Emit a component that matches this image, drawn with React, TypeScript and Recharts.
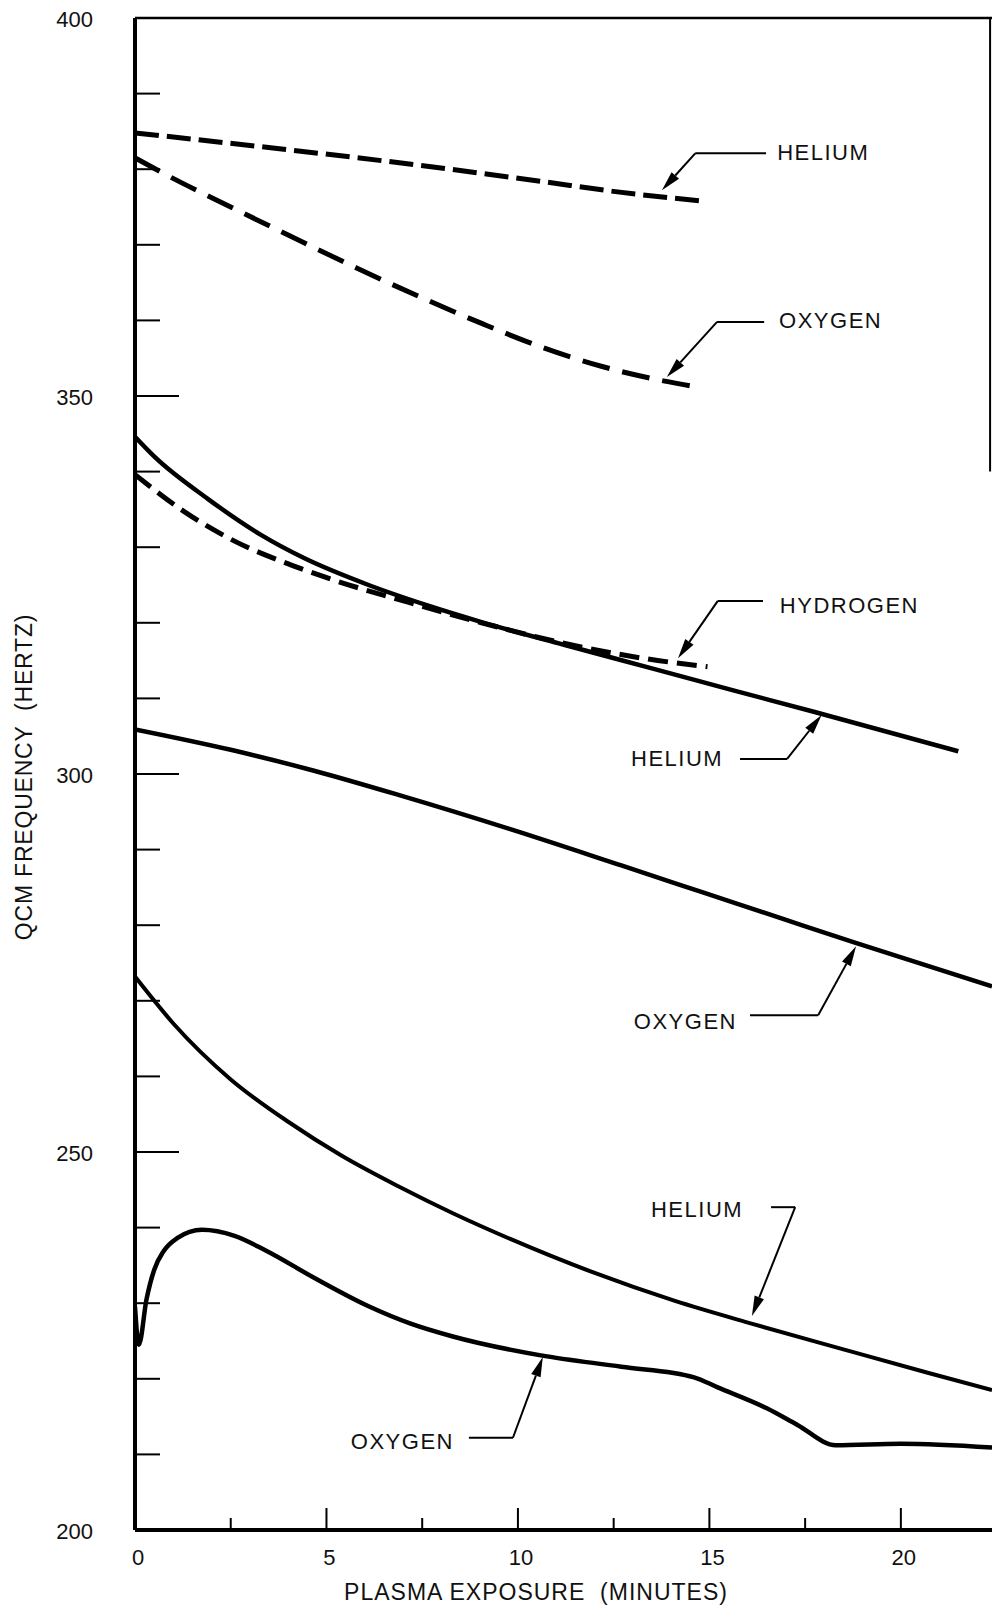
import React from "react";
import { LineChart, Line, XAxis, YAxis, ReferenceLine, ReferenceDot } from "recharts";

const FONT = '"Liberation Sans", Arial, Helvetica, sans-serif';

// Plasma exposure (minutes) vs QCM frequency (hertz)
const heliumDashTime = [0, 3.6, 7.3, 10.6, 12.6, 14.8];
const heliumDashFreq = [384.8, 382.8, 380.6, 378.4, 377.0, 375.8];

const oxygenDashTime = [0, 0.8, 2.5, 4.2, 5.8, 7.4, 9.1, 10.6, 12.2, 13.8, 14.8];
const oxygenDashFreq = [381.5, 379.3, 375.0, 370.8, 366.9, 363.2, 359.5, 356.5, 353.9, 352.0, 351.1];

const hydrogenDashTime = [0, 1.2, 2.6, 4.1, 5.1, 7.15, 9.05, 11.2, 13.4, 14.95];
const hydrogenDashFreq = [339.6, 335.0, 330.8, 327.6, 325.8, 322.7, 320.0, 317.3, 315.2, 314.2];

const heliumHighTime = [0, 0.5, 1.9, 3.3, 4.4, 6.1, 7.7, 9.05, 11.2, 13.4, 15.6, 17.75, 21.5];
const heliumHighFreq = [344.6, 342.0, 336.4, 331.6, 328.6, 325.0, 322.2, 320.1, 317.1, 314.1, 311.1, 308.2, 303.0];

const oxygenMidTime = [0, 2.5, 4.7, 6.9, 9.8, 12.7, 14.85, 17.0, 18.8, 22.38];
const oxygenMidFreq = [305.9, 303.2, 300.4, 297.2, 292.7, 287.9, 284.3, 280.7, 277.7, 271.9];

const heliumLowTime = [0, 1.0, 2.5, 4.0, 5.4, 6.9, 8.3, 9.8, 11.95, 14.1, 16.1, 18.5, 20.7, 22.38];
const heliumLowFreq = [273.2, 267.0, 259.6, 254.0, 249.5, 245.4, 241.9, 238.5, 234.1, 230.3, 227.3, 223.9, 220.8, 218.5];

const oxygenLowTime = [0, 0.1, 0.3, 0.5, 0.75, 1.1, 1.75, 2.6, 3.4, 4.7, 6.1, 7.2, 8.3, 10.6, 12.7, 14.6, 15.2, 16.5, 17.3, 18.3, 20.0, 22.38];
const oxygenLowFreq = [229.5, 224.5, 230.5, 234.4, 236.9, 238.6, 239.7, 238.9, 237.0, 233.3, 229.6, 227.3, 225.6, 223.1, 221.6, 220.2, 218.9, 216.1, 213.9, 211.2, 211.4, 210.9];

const timeTicks = [0, 2.5, 5, 7.5, 10, 12.5, 15, 17.5, 20];
const freqTicks = [200, 210, 220, 230, 240, 250, 260, 270, 280, 290, 300, 310, 320, 330, 340, 350, 360, 370, 380, 390, 400];

const toPoints = (ts: number[], vs: number[]) => ts.map((t, i) => ({ t, v: vs[i] }));

const series = [
  { key: "heliumDash", data: toPoints(heliumDashTime, heliumDashFreq), dash: "24 8", width: 5 },
  { key: "oxygenDash", data: toPoints(oxygenDashTime, oxygenDashFreq), dash: "28 13", width: 5 },
  { key: "hydrogenDash", data: toPoints(hydrogenDashTime, hydrogenDashFreq), dash: "20 9", width: 5 },
  { key: "heliumHigh", data: toPoints(heliumHighTime, heliumHighFreq), dash: undefined, width: 4.5 },
  { key: "oxygenMid", data: toPoints(oxygenMidTime, oxygenMidFreq), dash: undefined, width: 4.5 },
  { key: "heliumLow", data: toPoints(heliumLowTime, heliumLowFreq), dash: undefined, width: 4 },
  { key: "oxygenLow", data: toPoints(oxygenLowTime, oxygenLowFreq), dash: undefined, width: 4.5 },
];

// callouts: label point, then leader (near label -> elbow -> arrow tip), in data units
const notes = [
  { text: "HELIUM", anchor: "start", at: [16.77, 382.3], path: [[16.48, 382.1], [14.63, 382.1], [13.76, 377.2]] },
  { text: "OXYGEN", anchor: "start", at: [16.82, 360.0], path: [[16.43, 359.8], [15.2, 359.8], [13.89, 352.5]] },
  { text: "HYDROGEN", anchor: "start", at: [16.84, 322.4], path: [[16.4, 322.9], [15.22, 322.9], [14.18, 315.3]] },
  { text: "HELIUM", anchor: "end", at: [15.36, 302.1], path: [[15.8, 302.0], [17.03, 302.0], [17.93, 307.8]] },
  { text: "OXYGEN", anchor: "end", at: [15.72, 267.3], path: [[16.06, 268.1], [17.84, 268.1], [18.83, 277.2]] },
  { text: "HELIUM", anchor: "end", at: [15.88, 242.5], path: [[16.61, 242.7], [17.24, 242.7], [16.11, 228.3]] },
  { text: "OXYGEN", anchor: "end", at: [8.33, 211.8], path: [[8.72, 212.2], [9.87, 212.2], [10.65, 222.9]] },
];

function YTick(props: any) {
  const { x, y, payload } = props;
  const v = payload.value;
  const major = v % 50 === 0;
  return (
    <g>
      <line x1={x} y1={y} x2={x + (major ? 44 : 25)} y2={y} stroke="#000" strokeWidth={2} />
      {major && (
        <text x={x - 42} y={y} dy={9} textAnchor="end" fontSize={22} fontFamily={FONT} fill="#111">
          {v}
        </text>
      )}
    </g>
  );
}

function XTick(props: any) {
  const { x, y, payload } = props;
  const v = payload.value;
  const major = v % 5 === 0;
  return (
    <g>
      <line x1={x} y1={y} x2={x} y2={y - (major ? 22 : 12)} stroke="#000" strokeWidth={2} />
      {major && (
        <text x={x + 3} y={y + 35} textAnchor="middle" fontSize={22} fontFamily={FONT} fill="#111">
          {v}
        </text>
      )}
    </g>
  );
}

const xTitle = (props: any) => {
  const vb = props.viewBox;
  return (
    <text x={vb.x + 401} y={vb.y + 70} textAnchor="middle" fontSize={23} letterSpacing={1} fontFamily={FONT} fill="#111">
      PLASMA EXPOSURE{"\u00a0\u00a0"}(MINUTES)
    </text>
  );
};

const yTitle = (props: any) => {
  const vb = props.viewBox;
  const cx = 24;
  const cy = vb.y + vb.height / 2 + 3;
  return (
    <text x={cx} y={cy} dy={8} transform={`rotate(-90 ${cx} ${cy})`} textAnchor="middle" fontSize={23} letterSpacing={0.8} fontFamily={FONT} fill="#111">
      QCM FREQUENCY{"\u00a0\u00a0"}(HERTZ)
    </text>
  );
};

const plainLeader = (p: any) => <line x1={p.x1} y1={p.y1} x2={p.x2} y2={p.y2} stroke="#000" strokeWidth={2} />;

const arrowLeader = (p: any) => {
  const { x1, y1, x2, y2 } = p;
  const ang = Math.atan2(y2 - y1, x2 - x1);
  const len = 20;
  const half = 5;
  const bx = x2 - len * Math.cos(ang);
  const by = y2 - len * Math.sin(ang);
  const px = -Math.sin(ang) * half;
  const py = Math.cos(ang) * half;
  return (
    <g>
      <line x1={x1} y1={y1} x2={bx} y2={by} stroke="#000" strokeWidth={2} />
      <polygon points={`${x2},${y2} ${bx + px},${by + py} ${bx - px},${by - py}`} fill="#000" />
    </g>
  );
};

const noteText = (text: string, anchor: string) => (p: any) => (
  <text x={p.cx} y={p.cy} dy={8} textAnchor={anchor} fontSize={22} letterSpacing={1.5} fontFamily={FONT} fill="#111">
    {text}
  </text>
);

export default function App() {
  return (
    <div style={{ position: "absolute", left: 0, top: 0, width: 992, height: 1609, background: "#fff" }}>
      <LineChart width={992} height={1609} margin={{ top: 18, right: 0, bottom: 0, left: 0 }}>
        <XAxis
          type="number"
          dataKey="t"
          domain={[0, 22.38]}
          allowDataOverflow
          ticks={timeTicks}
          interval={0}
          height={79}
          tickSize={0}
          tickMargin={0}
          tickLine={false}
          tick={XTick}
          axisLine={{ stroke: "#000", strokeWidth: 4 }}
          label={xTitle}
        />
        <YAxis
          type="number"
          dataKey="v"
          domain={[200, 400]}
          allowDataOverflow
          ticks={freqTicks}
          interval={0}
          width={135}
          tickSize={0}
          tickMargin={0}
          tickLine={false}
          tick={YTick}
          axisLine={{ stroke: "#000", strokeWidth: 4 }}
          label={yTitle}
        />
        <ReferenceLine y={400} stroke="#000" strokeWidth={2.5} ifOverflow="visible" />
        <ReferenceLine segment={[{ x: 22.33, y: 400 }, { x: 22.33, y: 340 }]} stroke="#000" strokeWidth={2} ifOverflow="visible" />
        {series.map((s) => (
          <Line
            key={s.key}
            data={s.data}
            dataKey="v"
            type="monotone"
            stroke="#000"
            strokeWidth={s.width}
            strokeDasharray={s.dash}
            dot={false}
            activeDot={false}
            isAnimationActive={false}
          />
        ))}
        {notes.map((n, i) => (
          <ReferenceLine
            key={`a${i}`}
            segment={[{ x: n.path[0][0], y: n.path[0][1] }, { x: n.path[1][0], y: n.path[1][1] }]}
            ifOverflow="visible"
            shape={plainLeader}
          />
        ))}
        {notes.map((n, i) => (
          <ReferenceLine
            key={`b${i}`}
            segment={[{ x: n.path[1][0], y: n.path[1][1] }, { x: n.path[2][0], y: n.path[2][1] }]}
            ifOverflow="visible"
            shape={arrowLeader}
          />
        ))}
        {notes.map((n, i) => (
          <ReferenceDot key={`c${i}`} x={n.at[0]} y={n.at[1]} r={1} ifOverflow="visible" shape={noteText(n.text, n.anchor)} />
        ))}
      </LineChart>
    </div>
  );
}
